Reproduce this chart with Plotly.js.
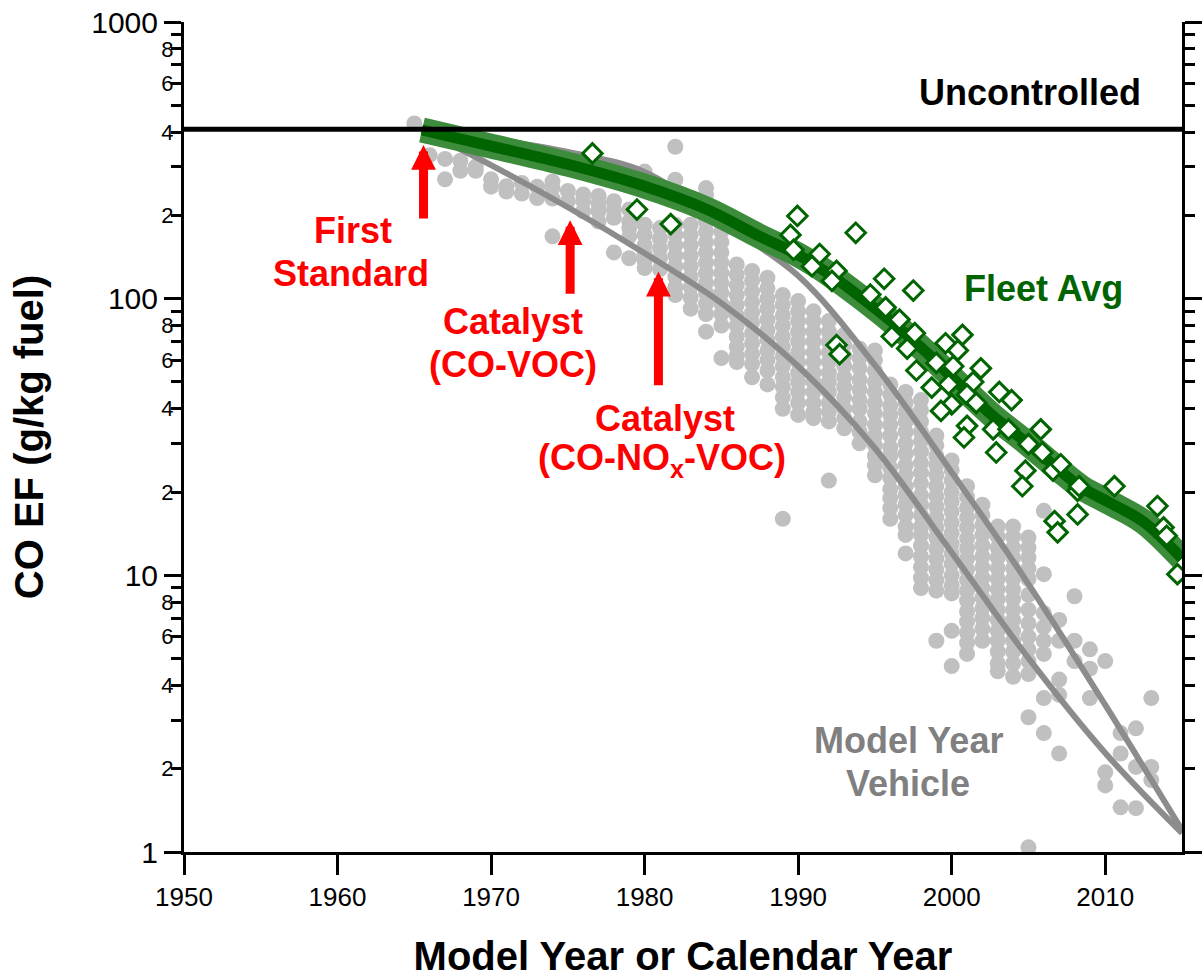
<!DOCTYPE html>
<html>
<head>
<meta charset="utf-8">
<script src="https://cdn.plot.ly/plotly-3.0.1.min.js"></script>
<style>html,body{margin:0;padding:0;background:#fff;}#chart{width:1203px;height:978px;}</style>
</head>
<body>
<div id="chart"></div>
<script>
// ---------------- data ----------------
// Individual model-year vehicle measurements (gray dots)
const dotYears = [1965,1966,1967,1968,1969,1970,1971,1972,1973,1974,1975,1976,1977,1978,1979,1980,1981,1982,1983,1984,1985,1986,1987,1988,1989,1990,1991,1992,1993,1994,1995,1996,1997,1998,1999,2000,2001,2002,2003,2004,2005,2006,2007,2008,2009,2010,2011,2012,2013];
const dotValues = [
  [430],
  [330],
  [320,270],
  [315,290],
  [300,290],
  [270,254],
  [255,244],
  [262,240],
  [254,231],
  [265,251,230,168],
  [245,225],
  [238,225,207],
  [235,220,207,190],
  [225,210,196,147],
  [210,190,180,168,140],
  [288,185,170,156,145,137,129],
  [180,165,152,140,128],
  [354,269,185,170,156,143,131,120,110,103],
  [185,170,156,143,131,120,110,101,92],
  [251,237,207,190,175,160,147,135,124,114,105,96,88,76],
  [190,175,160,147,135,124,114,105,96,88,80,61],
  [133,122,112,103,95,87,80,73,67,62,59],
  [126,116,106,97,89,82,75,69,63,58,52],
  [119,109,100,92,84,77,71,65,60,55,49],
  [103,95,87,80,73,67,62,57,52,48,44,40,16],
  [98,90,83,76,70,64,59,54,50,46,42,38],
  [90,83,76,70,64,59,54,50,46,42,39,37],
  [83,76,70,64,59,54,50,46,42,39,36,22],
  [74,68,62,57,52,48,44,40,37,34],
  [66,61,56,51,47,43,40,36,33,30],
  [65,60,55,50,46,42,38.5,35,32,29.5,27,25,23],
  [49,45,41,38,35,32,29,27,24.5,22.5,20.5,19,17.5,16],
  [46,42,39,36,33,30,27.5,25,23,21,19.5,18,16.5,15,14,12],
  [43,39.5,36,33,30.5,28,25.5,23.5,21.5,19.5,18,16.5,15,14,12.8,11.7,10.7,9.8,9],
  [32,29.5,27,25,23,21,19.3,17.7,16.2,14.9,13.7,12.5,11.5,10.5,9.6,8.8,5.8],
  [26,24,22,20,18.5,17,15.5,14.2,13,12,11,10,9.2,8.6,6.3,4.7],
  [21,19.2,17.6,16.2,14.9,13.6,12.5,11.5,10.5,9.6,8.8,8.1,7.4,6.8,6.2,5.7,5.2],
  [18,16.5,15.2,14,12.8,11.7,10.7,9.8,9,8.3,7.6,7,6.4,5.8],
  [15,13.8,12.6,11.6,10.6,9.7,8.9,8.2,7.5,6.9,6.3,5.8,5.3,4.8,4.5],
  [15,13.8,12.6,11.6,10.6,9.7,8.9,8.2,7.5,6.9,6.3,5.8,5.3,4.8,4.3],
  [13.7,12.6,11.6,10.6,9.7,8.5,7.5,6.7,6,5.4,4.9,4.4,3.07,1.04],
  [17.1,10.1,7.3,6.5,5.8,5.2,3.6,2.69],
  [6.9,5.8,4.2,3.7,2.27],
  [8.4,5.8,4.9],
  [5.4,4.6,3.6],
  [4.9,1.94,1.74],
  [2.69,2.27,1.45],
  [2.8,2.03,1.44],
  [3.6,2.03,1.82]
];

// Model-year vehicle fit curves (gray lines)
const fitYears         = [1965.5,1970,1975,1980,1985,1990,1995,2000,2005,2010,2015];
const upperFitValues   = [414,378,339,287,189,121,57.5,23.6,9.3,3.4,1.2];
const lowerFitValues   = [407,304,214,146,96.4,57,28.8,12.1,5.02,2.28,1.17];

// Fleet average curve (green band)
const fleetYears  = [1965.5,1970,1975,1980,1984,1987.5,1990,1992,1994,1996.2,1998.4,2000.6,2002.7,2004.9,2007.1,2008.5,2010.3,2012.5,2015];
const fleetValues = [407,356,306,255,211,168,144,123,102,81.6,63.6,48.3,37.6,30.1,23.8,20.7,18.3,15.6,11.5];

// Fleet (calendar-year) measurements (green diamonds)
const fleetObsYears = [1976.6,1979.5,1981.7,1989.95,1989.5,1989.7,1993.75,1991.4,1990.9,1992.5,1992.2,1995.6,1997.5,1994.7,1995.7,1996.6,1997.6,1996.1,1997.1,1992.5,1992.7,2000.7,1999.6,2000.4,1997.7,1999.0,2000.1,2001.9,1998.7,1999.8,2001.4,2001.0,2001.6,2000.0,1999.3,2003.1,2003.9,2001.0,2000.8,2002.7,2003.7,2002.9,2005.8,2005.0,2005.9,2004.8,2004.6,2006.6,2007.1,2008.2,2008.3,2006.7,2006.9,2008.2,2010.6,2013.4,2013.8,2014.0,2014.7];
const fleetObsValues = [335,210,186,199,170,150,173,145,131,126,116,118,107,103.5,93,84,75,73,66,68,63,74,69,65,55,58.6,57,56,47.7,49,50,45,42,41.5,39.3,46,43,34.7,31.5,33.7,33.7,27.8,33.7,29.8,27.8,23.9,21,23.9,25.2,20.2,21,15.7,14.3,16.6,21,17.8,14.9,13.9,10.1];

// Uncontrolled level
const uncontrolledYears = [1950, 2015];
const uncontrolledValue = 410;

// Regulatory milestones (arrows): year, EF at arrow tip
const milestoneYears = [1965.6, 1975.15, 1980.9];
const milestoneTips  = [359, 192, 125];

// Axis ticks
const xTickVals = [1950,1960,1970,1980,1990,2000,2010];
const yMajorVals = [1,10,100,1000];
const yMajorText = ['1','10','100','1000'];
const yMinorVals = [2,3,4,5,6,7,8,9,20,30,40,50,60,70,80,90,200,300,400,500,600,700,800,900];
const yMinorText = ['2','','4','','6','','8','','2','','4','','6','','8','','2','','4','','6','','8',''];

// ---------------- build ----------------
const FONT = 'Liberation Sans, Arial, Helvetica, sans-serif';
const dotX = [], dotY = [];
dotYears.forEach((yr, i) => dotValues[i].forEach(v => { dotX.push(yr); dotY.push(v); }));

const traces = [
  {x: dotX, y: dotY, type:'scatter', mode:'markers', yaxis:'y',
   marker:{symbol:'circle', size:16, color:'#c0c0c0', line:{width:0}}, hoverinfo:'skip'},
  {x: fitYears, y: lowerFitValues, type:'scatter', mode:'lines', yaxis:'y',
   line:{color:'#8c8c8c', width:6, shape:'spline', smoothing:1}},
  {x: fitYears, y: upperFitValues, type:'scatter', mode:'lines', yaxis:'y',
   line:{color:'#8c8c8c', width:6, shape:'spline', smoothing:1}},
  {x: fleetYears, y: fleetValues, type:'scatter', mode:'lines', yaxis:'y',
   line:{color:'#3c8c3c', width:25, shape:'spline', smoothing:1}},
  {x: fleetYears, y: fleetValues, type:'scatter', mode:'lines', yaxis:'y',
   line:{color:'#006400', width:11, shape:'spline', smoothing:1}},
  {x: uncontrolledYears, y: uncontrolledYears.map(() => uncontrolledValue), type:'scatter', mode:'lines', yaxis:'y2',
   line:{color:'#000000', width:5}},
  {x: fleetObsYears, y: fleetObsValues, type:'scatter', mode:'markers', yaxis:'y2',
   marker:{symbol:'diamond', size:15, color:'#ffffff', line:{color:'#006400', width:3}}}
];

function txt(text, year, value, color, size) {
  return {text: '<b>' + text + '</b>', x: year, y: Math.log10(value), xref:'x', yref:'y',
          showarrow:false, xanchor:'center', yanchor:'middle',
          font:{family:FONT, size:size || 36, color:color}};
}
const arrowLen = [75, 75, 115];
const annotations = [
  txt('Uncontrolled', 2005.1, 558, '#000000'),
  txt('First', 1961.0, 177, '#ff0000'),
  txt('Standard', 1960.9, 123, '#ff0000'),
  txt('Catalyst', 1971.43, 83, '#ff0000'),
  txt('(CO-VOC)', 1971.43, 58, '#ff0000'),
  txt('Catalyst', 1981.33, 37, '#ff0000'),
  txt('(CO-NO<sub>x</sub>-VOC)', 1981.14, 26.1, '#ff0000'),
  txt('Fleet Avg', 2005.96, 109, '#006400'),
  txt('Model Year', 1997.17, 2.54, '#808080'),
  txt('Vehicle', 1997.17, 1.77, '#808080')
];
milestoneYears.forEach((yr, i) => {
  annotations.push({text:'', x: yr, y: Math.log10(milestoneTips[i]), xref:'x', yref:'y',
    showarrow:true, ax:0, ay:arrowLen[i], arrowcolor:'#ff0000', arrowwidth:9,
    arrowhead:2, arrowsize:0.55, standoff:0});
});

const layout = {
  width:1203, height:978,
  margin:{l:184, r:21, t:22, b:126},
  paper_bgcolor:'#ffffff', plot_bgcolor:'#ffffff',
  showlegend:false,
  font:{family:FONT, color:'#000000'},
  xaxis:{range:[1950,2015], tickmode:'array', tickvals:xTickVals, ticktext:xTickVals.map(String),
    ticks:'outside', ticklen:20, tickwidth:3, tickcolor:'#000', showline:true, linewidth:3, linecolor:'#000',
    showgrid:false, zeroline:false, tickfont:{family:FONT, size:26},
    title:{text:'<b>Model Year or Calendar Year</b>', font:{family:FONT, size:40}, standoff:34}},
  yaxis:{type:'log', range:[0,3], tickmode:'array', tickvals:yMinorVals, ticktext:yMinorText,
    ticks:'outside', ticklen:10, tickwidth:3, tickcolor:'#000', showline:true, linewidth:3, linecolor:'#000',
    mirror:'ticks', showgrid:false, zeroline:false, tickfont:{family:FONT, size:22}, ticklabelstandoff:-7,
    title:{text:'<b>CO EF (g/kg fuel)</b>', font:{family:FONT, size:40}, standoff:106}},
  yaxis2:{type:'log', range:[0,3], overlaying:'y', side:'left', tickmode:'array', tickvals:yMajorVals, ticktext:yMajorText,
    ticks:'outside', ticklen:17, tickwidth:3, tickcolor:'#000', showline:true, linewidth:3, linecolor:'#000',
    mirror:'ticks', showgrid:false, zeroline:false, tickfont:{family:FONT, size:30}},
  annotations: annotations
};

Plotly.newPlot('chart', traces, layout, {displayModeBar:false, staticPlot:true});
</script>
</body>
</html>
